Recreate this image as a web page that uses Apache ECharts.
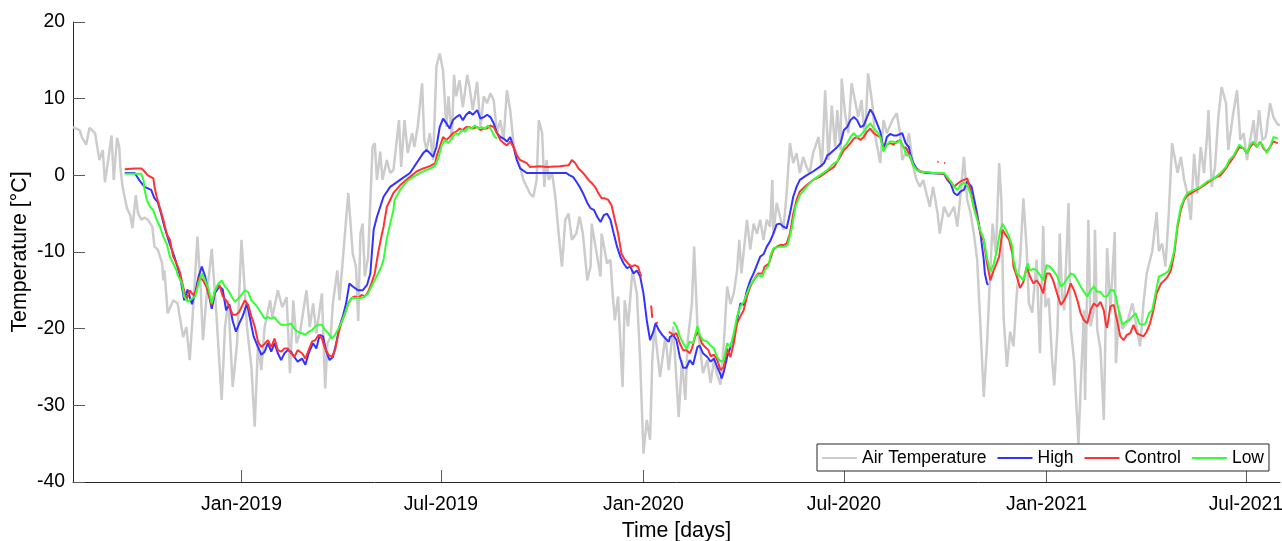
<!DOCTYPE html>
<html>
<head>
<meta charset="utf-8">
<script src="https://cdn.jsdelivr.net/npm/echarts@6/dist/echarts.min.js"></script>
<style>
  html, body { margin: 0; padding: 0; background: #fff; }
  #chart { width: 1282px; height: 541px; }
</style>
</head>
<body>
<div id="chart"></div>
<script>
// x values are days after startDate, y values are degrees C
const startDate = '2018-08-01';
const endDate = '2021-08-01';
const xTickDates = ['2019-01-01', '2019-07-01', '2020-01-01', '2020-07-01', '2021-01-01', '2021-07-01'];
const xTickLabels = ['Jan-2019', 'Jul-2019', 'Jan-2020', 'Jul-2020', 'Jan-2021', 'Jul-2021'];
const seriesNames = ['Air Temperature', 'High', 'Control', 'Low'];

const airTemperature = [[0,6.3],[6,5.9],[8,5.0],[12,4.0],[15,6.2],[20,5.5],[24,2.0],[27,3.3],[29,-0.9],[32,2.0],[35,5.2],[37,-0.6],[40,4.9],[42,3.7],[43,1.1],[45,-1.5],[49,-4.3],[52,-5.2],[54,-6.9],[57,-2.6],[59,-4.9],[62,-5.8],[65,-5.5],[68,-5.8],[72,-6.7],[74,-9.3],[77,-9.7],[81,-11.5],[82,-13.7],[83,-12.4],[86,-18],[91,-16.3],[95,-16.7],[100,-21.1],[103,-19.8],[106,-24.1],[109,-17.6],[113,-8.0],[116,-15],[118,-21.5],[121,-16.3],[126,-9.6],[130,-17.6],[135,-29.3],[138,-19.8],[141,-16.3],[145,-27.6],[149,-21.9],[153,-8.4],[156,-15],[158,-19.8],[162,-25],[165,-32.8],[168,-21.9],[171,-25.4],[174,-19.8],[179,-16.3],[181,-18.5],[186,-15],[190,-17.2],[194,-15.9],[197,-25.8],[200,-16.3],[203,-21.9],[206,-20.6],[212,-15],[215,-19.8],[218,-16.7],[221,-20.6],[226,-15.4],[229,-27.8],[231,-21.9],[234,-21.1],[236,-16.7],[240,-12.4],[242,-16.3],[245,-11],[250,-2.3],[254,-10.2],[257,-12],[259,-19],[261,-7.6],[263,-6.3],[265,-13.2],[268,-10.6],[272,3.7],[274,4.2],[276,-0.6],[279,3.1],[281,-0.6],[285,2.0],[288,0.3],[291,0.7],[296,7.2],[298,1.1],[301,7.2],[304,2.9],[308,5.5],[310,3.7],[313,6.3],[317,12.0],[319,4.6],[321,3.3],[324,5.5],[327,2.0],[330,14.2],[333,15.9],[336,13.7],[339,6.3],[341,10.3],[344,4.6],[346,13.1],[348,10.3],[351,12.4],[354,8.9],[358,13.1],[360,11.6],[363,8.5],[367,12.2],[370,6.3],[373,10.3],[376,9.4],[379,10.7],[382,9.8],[385,5.5],[388,7.2],[391,4.6],[394,11.1],[397,8.5],[400,4.2],[403,2.4],[406,1.1],[409,-0.6],[412,-1.5],[415,-2.4],[418,-2.8],[421,-0.6],[423,7.2],[426,5.5],[428,-1.5],[430,2.0],[432,-0.6],[435,0.3],[438,-2.8],[441,-7.6],[444,-11.9],[447,-5.8],[450,-5.0],[453,-8.4],[457,-7.6],[460,-5.4],[463,-7.6],[467,-13.7],[470,-11.9],[471,-6.3],[476,-10.6],[479,-13.2],[480,-7.6],[485,-11.5],[488,-11],[490,-15.4],[492,-18.9],[495,-15.8],[499,-27.6],[501,-16.3],[504,-19.7],[508,-12.4],[512,-15.4],[515,-24.1],[518,-36.3],[521,-31.9],[524,-34.5],[526,-24.1],[528,-19.7],[533,-26.3],[538,-21.0],[541,-25.4],[545,-19.7],[550,-31.5],[553,-24.1],[556,-29.3],[558,-21.9],[562,-16.7],[564,-9.3],[567,-19.7],[569,-21.9],[572,-25.8],[576,-24.1],[579,-27.1],[582,-24.1],[585,-26.1],[588,-27.3],[591,-21.9],[594,-14.5],[597,-16.8],[600,-15.4],[603,-12.4],[605,-8.4],[607,-12.8],[612,-5.8],[615,-9.7],[618,-6.3],[621,-7.6],[624,-5.8],[627,-8.4],[630,-5.8],[633,-6.7],[635,-0.6],[636,-7.6],[639,-3.6],[642,-5.4],[645,-7.1],[648,-2.4],[651,4.2],[654,1.6],[657,2.9],[660,0.3],[663,2.4],[666,1.1],[669,0.3],[672,2.9],[677,5.0],[680,1.1],[683,11.1],[686,2.0],[689,9.1],[692,3.7],[694,8.5],[697,3.3],[698,12.6],[701,8.1],[704,5.5],[707,12.0],[710,9.8],[713,7.6],[716,9.8],[719,4.6],[722,13.3],[726,9.1],[728,5.5],[733,1.6],[736,7.2],[739,5.5],[744,7.2],[748,8.1],[751,5.5],[753,2.0],[756,2.9],[759,5.5],[763,1.1],[766,-0.6],[769,-1.5],[772,-0.6],[775,-2.4],[778,-4.1],[781,-1.5],[785,-4.9],[787,-7.6],[791,-4.1],[795,-5.4],[800,-4.1],[803,-6.7],[806,-2.4],[809,2.4],[812,-3.2],[815,-4.9],[818,-7.6],[821,-11],[824,-19.7],[827,-28.9],[830,-22],[832,-15.4],[835,-6.3],[838,-10.2],[841,1.6],[843,-3.2],[845,-18.4],[848,-25],[851,-20.4],[854,-22.3],[857,-15.4],[860,-11],[863,-3.0],[866,-9.7],[868,-16.7],[871,-17.9],[875,-11],[878,-23.2],[881,-6.6],[883,-17.2],[886,-16],[889,-23.9],[891,-27.4],[894,-20],[896,-7.6],[898,-15.4],[900,-17.6],[904,-3.6],[906,-20],[909,-24.1],[911,-29.6],[913,-35],[915,-27.6],[918,-17.6],[919,-29.3],[922,-5.8],[924,-19.7],[927,-17.6],[928,-7.1],[930,-20.1],[933,-22.7],[936,-31.9],[939,-9.5],[942,-17.6],[946,-7.4],[947,-24.5],[950,-17.6],[953,-20],[957,-19.3],[962,-16.7],[966,-20],[969,-22.3],[972,-16.7],[975,-12.8],[980,-9.9],[984,-4.8],[986,-9.9],[989,-8.9],[992,-11.9],[995,-5.0],[998,4.2],[999,4.4],[1003,0.3],[1006,2.4],[1009,-0.6],[1012,-2.4],[1015,-5.8],[1018,2.8],[1021,-2.4],[1024,3.7],[1027,0.3],[1030,5.5],[1031,8.5],[1034,-1.5],[1037,1.1],[1040,7.6],[1043,11.5],[1047,9.4],[1049,3.3],[1053,7.6],[1057,11.1],[1060,4.6],[1063,5.5],[1066,2.0],[1069,4.6],[1072,7.2],[1074,3.7],[1077,8.5],[1080,4.6],[1083,5.0],[1087,9.4],[1090,7.6],[1094,6.6],[1096,6.6]];

const high = [[47,0.3],[56,0.3],[61,-0.8],[65,-1.5],[71,-1.9],[74,-3.0],[77,-3.5],[80,-5.0],[83,-6.7],[88,-9.0],[92,-10.6],[97,-13.0],[101,-16.3],[104,-14.9],[108,-16.8],[111,-15.3],[114,-13.2],[117,-11.9],[120,-13.2],[123,-15.3],[126,-17.4],[129,-15.3],[133,-14.5],[136,-14.9],[139,-17.6],[142,-16.8],[145,-19.0],[148,-20.4],[151,-19.3],[154,-18.4],[158,-16.7],[161,-18.9],[164,-21.0],[168,-22.4],[171,-23.4],[174,-23.0],[177,-21.9],[180,-23.0],[183,-21.9],[186,-23.2],[189,-24.1],[192,-23.2],[195,-22.8],[198,-23.0],[201,-23.7],[204,-24.3],[208,-23.9],[211,-24.7],[214,-23.2],[218,-21.9],[221,-22.6],[224,-20.8],[227,-21.0],[230,-23.0],[233,-24.1],[236,-23.7],[239,-21.9],[242,-19.7],[245,-18.4],[248,-16.7],[251,-14.1],[254,-14.5],[259,-15.0],[263,-15.0],[267,-14.3],[270,-12.8],[273,-7.1],[276,-5.4],[279,-4.1],[282,-2.8],[288,-1.5],[297,-0.6],[306,0.3],[312,1.6],[318,2.9],[321,3.3],[324,2.9],[327,2.4],[330,3.7],[333,6.3],[336,7.4],[339,6.8],[342,6.1],[345,7.2],[348,7.6],[351,7.9],[354,7.2],[357,7.9],[360,8.3],[363,7.9],[367,8.5],[370,7.4],[373,7.6],[376,7.9],[379,7.6],[382,6.8],[385,5.5],[388,5.0],[391,4.8],[394,4.4],[397,5.0],[400,3.7],[403,2.0],[406,0.9],[412,0.3],[448,0.3],[451,0.0],[454,-0.2],[457,-0.8],[460,-1.5],[463,-2.3],[467,-3.6],[470,-4.3],[473,-4.5],[476,-5.4],[479,-6.1],[482,-5.2],[485,-5.0],[488,-5.8],[491,-7.6],[494,-9.3],[497,-10.6],[500,-11.5],[503,-12.1],[506,-11.9],[509,-12.8],[512,-12.4],[515,-13.2],[518,-15.4],[521,-18.9],[524,-21.5],[527,-20.4],[529,-19.3],[532,-20.2],[535,-20.8],[538,-21.3],[541,-21.7],[542,-21.1],[545,-20.8],[548,-21.5],[551,-23.7],[554,-25.1],[557,-25.1],[560,-24.1],[563,-24.7],[567,-22.4],[569,-22.2],[572,-23.2],[576,-23.7],[579,-24.3],[582,-23.9],[585,-25.0],[588,-26.0],[589,-26.5],[591,-25.6],[594,-23.7],[597,-22.4],[600,-21.0],[603,-18.9],[606,-16.7],[609,-16.9],[612,-15.0],[615,-13.7],[618,-12.8],[621,-11.7],[624,-10.6],[627,-10.3],[630,-9.3],[633,-8.6],[636,-7.6],[639,-6.4],[642,-6.3],[645,-6.7],[648,-6.9],[651,-5.0],[654,-2.8],[657,-1.5],[660,-0.6],[666,0.0],[672,0.5],[678,1.1],[682,1.6],[685,2.6],[688,2.9],[691,3.3],[694,3.7],[697,4.2],[700,5.9],[703,6.3],[706,7.2],[709,7.6],[712,7.2],[715,6.3],[718,6.5],[721,7.6],[724,8.6],[727,7.9],[730,6.8],[733,5.7],[735,4.2],[736,3.3],[739,5.0],[742,5.4],[745,5.2],[748,5.2],[753,5.5],[756,4.2],[759,3.7],[760,2.9],[763,1.6],[766,0.9],[769,0.5],[775,0.3],[791,0.2],[794,-0.6],[797,-1.1],[800,-2.3],[803,-2.6],[806,-2.1],[809,-1.9],[812,-0.8],[816,-1.5],[821,-5.0],[824,-7.6],[827,-11.0],[828,-12.8],[830,-14.1],[831,-14.3]];

const control = [[47,0.8],[56,0.9],[62,0.9],[65,0.5],[68,0.0],[73,-0.4],[74,-1.5],[76,-2.8],[79,-4.3],[82,-5.8],[85,-7.6],[88,-8.4],[91,-10.6],[94,-11.5],[97,-12.6],[100,-14.5],[103,-16.3],[106,-15.0],[109,-15.6],[112,-15.0],[115,-13.2],[118,-13.7],[121,-14.5],[126,-16.9],[129,-15.0],[133,-14.3],[136,-15.8],[139,-16.3],[142,-17.1],[145,-18.2],[148,-18.2],[151,-17.8],[156,-16.3],[159,-16.9],[162,-18.4],[165,-19.7],[168,-21.7],[171,-22.4],[174,-22.0],[177,-21.5],[180,-22.4],[183,-21.3],[186,-22.8],[189,-23.0],[192,-22.6],[195,-22.6],[198,-23.2],[201,-23.7],[204,-22.8],[208,-23.2],[211,-23.9],[214,-22.8],[217,-21.7],[220,-21.5],[223,-20.8],[226,-21.3],[229,-22.6],[232,-23.4],[235,-23.7],[238,-22.8],[241,-20.6],[244,-19.1],[247,-18.0],[250,-16.7],[253,-16.0],[256,-15.8],[259,-16.0],[262,-15.6],[265,-15.8],[268,-15.2],[271,-14.1],[274,-12.8],[277,-10.2],[280,-8.0],[282,-6.7],[285,-4.1],[291,-2.3],[297,-1.3],[306,-0.2],[312,0.5],[318,0.9],[324,1.2],[329,1.6],[330,2.4],[333,3.7],[336,5.0],[339,4.6],[342,5.0],[345,5.5],[348,5.7],[351,6.1],[354,5.9],[357,6.3],[360,6.3],[363,6.1],[367,6.3],[370,5.9],[373,6.1],[376,6.1],[379,6.5],[382,6.3],[385,5.5],[388,4.6],[391,4.2],[394,3.9],[397,4.4],[400,3.7],[403,2.6],[406,2.0],[412,1.6],[415,1.1],[424,1.2],[430,1.1],[442,1.2],[450,1.3],[453,2.0],[456,1.6],[459,0.9],[462,0.5],[465,0.0],[468,-0.6],[471,-1.0],[474,-1.5],[477,-2.3],[480,-3.0],[483,-3.0],[486,-3.2],[489,-3.9],[492,-5.8],[495,-7.6],[498,-10.2],[501,-11.0],[504,-11.5],[507,-11.9],[510,-11.7],[513,-11.9],[515,-12.8],[516,-13.2],[520,null],[525,-17.0],[526,-18.6],[527,null],[529,-19.3],[531,-19.2],[535,null],[541,-20.4],[545,-20.8],[548,-20.6],[551,-21.9],[554,-22.8],[557,-22.8],[560,-23.2],[562,-22.6],[565,-21.0],[568,-20.4],[571,-21.9],[574,-22.4],[577,-22.8],[579,-23.6],[582,-23.4],[585,-24.1],[588,-25.4],[591,-25.0],[592,-24.1],[594,-22.6],[597,-23.7],[600,-21.9],[603,-19.3],[606,-18.4],[609,-17.6],[612,-15.8],[615,-14.5],[618,-13.7],[622,-12.8],[626,-12.8],[628,-11.9],[632,-11.5],[633,-11.0],[636,-9.7],[639,-9.3],[642,-9.1],[645,-9.1],[648,-8.9],[651,-7.6],[654,-5.0],[657,-3.2],[660,-2.1],[666,-1.3],[672,-0.6],[678,-0.2],[685,0.5],[691,1.1],[694,1.8],[697,2.5],[700,3.3],[703,3.7],[706,4.2],[709,4.8],[712,5.0],[715,4.6],[718,5.0],[721,5.7],[724,6.1],[727,5.5],[730,5.2],[733,5.0],[735,4.0],[736,3.3],[739,4.0],[742,4.2],[745,4.0],[748,4.4],[751,4.6],[754,3.7],[757,3.5],[760,2.4],[763,1.3],[769,0.5],[781,0.3],[791,0.2],[794,-0.4],[797,-0.8],[800,-1.5],[803,-1.1],[806,-0.8],[809,-0.6],[812,-0.4],[815,-1.9],[818,-4.1],[821,-5.4],[824,-7.6],[827,-8.5],[830,-11.5],[833,-13.7],[836,-12.4],[838,-11.7],[841,-10.6],[844,-7.1],[847,-7.8],[850,-8.4],[853,-10.2],[854,-11.9],[857,-13.2],[860,-14.7],[863,-13.9],[866,-11.9],[869,-13.2],[872,-14.1],[875,-13.7],[878,-14.3],[881,-15.4],[884,-12.8],[887,-12.8],[890,-13.7],[894,-15.6],[897,-16.9],[900,-16.3],[903,-15.4],[906,-14.1],[909,-15.0],[912,-16.3],[915,-18.0],[918,-18.9],[921,-19.3],[924,-17.6],[927,-16.7],[930,-17.1],[933,-16.5],[936,-17.6],[938,-19.5],[939,-19.9],[942,-17.1],[945,-16.9],[948,-18.9],[951,-21.0],[954,-21.5],[957,-20.8],[960,-20.6],[963,-19.5],[966,-20.6],[969,-20.8],[972,-21.0],[975,-20.4],[978,-19.3],[981,-17.6],[984,-15.4],[988,-14.1],[991,-13.7],[994,-13.2],[997,-12.4],[1000,-10.2],[1003,-6.7],[1006,-4.5],[1009,-3.2],[1012,-2.6],[1018,-2.1],[1024,-1.6],[1030,-1.0],[1036,-0.4],[1042,0.0],[1047,0.9],[1050,1.6],[1054,2.4],[1059,3.7],[1063,3.5],[1066,2.9],[1069,3.7],[1072,4.2],[1075,3.7],[1078,4.4],[1081,3.5],[1084,3.1],[1087,3.7],[1090,4.4],[1094,4.2],
  [1095,null],[785,1.7],[786,1.8],[787,null],[791,1.6],[792,1.6]];

const low = [[47,0.2],[62,0.2],[64,-0.6],[65,-1.9],[67,-3.2],[70,-4.1],[73,-4.6],[76,-5.8],[79,-6.7],[82,-8.0],[85,-8.9],[88,-10.6],[91,-11.5],[94,-12.4],[95,-13.0],[99,-14.1],[101,-15.8],[104,-16.5],[108,-16.1],[111,-15.8],[114,-14.1],[117,-12.8],[120,-13.7],[123,-14.7],[126,-16.7],[129,-15.0],[132,-14.1],[135,-13.7],[138,-14.5],[141,-15.0],[144,-15.8],[147,-16.5],[150,-16.1],[153,-15.6],[156,-15.0],[159,-15.2],[162,-16.3],[167,-17.1],[171,-18.0],[174,-18.7],[177,-18.5],[180,-18.7],[183,-18.5],[186,-19.1],[189,-19.5],[192,-19.5],[195,-19.5],[198,-19.3],[201,-20.0],[204,-20.4],[208,-20.6],[211,-20.8],[214,-20.4],[217,-20.2],[220,-19.7],[223,-19.5],[226,-19.5],[229,-20.2],[232,-20.6],[235,-21.3],[238,-20.8],[241,-20.0],[244,-19.1],[247,-18.0],[250,-16.7],[253,-16.0],[258,-16.0],[262,-16.0],[265,-15.8],[268,-15.4],[271,-14.5],[274,-13.7],[277,-12.8],[280,-11.9],[282,-11.0],[285,-8.2],[288,-6.3],[291,-4.5],[292,-3.2],[297,-1.9],[303,-0.8],[309,-0.2],[315,0.3],[321,0.7],[326,1.0],[329,1.3],[332,2.4],[335,4.0],[338,4.6],[341,4.2],[344,4.8],[347,5.5],[350,5.3],[353,5.9],[356,5.7],[359,6.3],[362,6.1],[365,6.5],[368,6.1],[371,6.3],[374,6.1],[377,6.5],[380,5.9],[383,5.0],[385,4.8],[390,null],[545,-19.1],[548,-19.7],[551,-21.0],[554,-21.9],[557,-22.6],[560,-21.7],[563,-21.9],[567,-19.7],[569,-20.8],[572,-21.5],[576,-21.7],[579,-22.2],[582,-22.6],[585,-23.7],[588,-24.3],[591,-24.1],[594,-21.9],[597,-22.4],[600,-20.6],[603,-18.4],[606,-17.1],[609,-16.5],[612,-15.4],[615,-14.3],[618,-13.7],[622,-13.0],[626,-13.2],[628,-12.4],[632,-11.7],[633,-10.6],[636,-9.5],[642,-9.3],[646,-9.3],[649,-9.1],[653,-6.7],[656,-4.1],[660,-2.6],[666,-1.5],[672,-0.6],[678,0.0],[685,0.7],[691,1.6],[694,1.8],[697,2.9],[700,3.7],[703,4.2],[706,5.0],[709,5.5],[712,5.0],[715,5.2],[718,5.7],[721,6.3],[724,6.8],[727,6.1],[730,5.7],[733,5.0],[735,3.9],[736,3.1],[739,4.0],[742,4.4],[745,4.4],[748,4.2],[751,4.6],[754,3.7],[757,2.6],[760,2.6],[763,1.3],[766,0.7],[769,0.5],[781,0.3],[791,0.3],[794,-0.2],[797,-0.8],[800,-1.5],[803,-1.9],[806,-1.2],[809,-1.0],[812,-1.3],[815,-2.4],[818,-4.3],[821,-5.8],[824,-7.2],[827,-8.3],[830,-10.8],[833,-12.6],[836,-11.6],[839,-9.7],[842,-7.2],[844,-6.3],[847,-7.1],[850,-8.0],[853,-9.3],[854,-11.0],[857,-12.8],[860,-13.2],[863,-13.7],[867,-11.5],[869,-12.4],[872,-12.2],[875,-12.4],[878,-13.0],[881,-13.7],[884,-11.7],[887,-11.9],[890,-12.4],[894,-13.2],[897,-14.5],[900,-14.1],[903,-13.4],[906,-12.8],[909,-13.0],[912,-13.7],[915,-14.5],[918,-15.2],[921,-15.8],[924,-15.0],[927,-14.5],[930,-15.2],[933,-15.2],[936,-15.8],[939,-15.8],[942,-15.0],[945,-15.0],[947,-15.8],[950,-18.0],[953,-19.5],[956,-19.1],[959,-18.9],[962,-18.4],[965,-18.0],[968,-19.3],[971,-19.5],[974,-19.3],[977,-18.0],[980,-17.6],[983,-15.4],[986,-13.2],[989,-13.0],[992,-12.8],[995,-12.4],[998,-11.0],[1000,-9.7],[1003,-6.3],[1006,-4.1],[1009,-3.0],[1012,-2.3],[1018,-1.9],[1024,-1.5],[1030,-0.8],[1036,-0.4],[1042,0.3],[1047,1.1],[1050,2.0],[1054,2.6],[1059,4.0],[1063,3.5],[1066,2.9],[1069,4.0],[1072,4.4],[1075,3.7],[1078,4.4],[1081,3.7],[1084,2.9],[1087,3.7],[1090,5.0],[1094,4.8]];

const DAY = 86400000;
function toDay(s) {
  const p = s.split('-').map(Number);
  const q = startDate.split('-').map(Number);
  return Math.round((Date.UTC(p[0], p[1] - 1, p[2]) - Date.UTC(q[0], q[1] - 1, q[2])) / DAY);
}
const xTickDays = xTickDates.map(toDay);
const toSeries = pts => pts.map(p => [p[0], p[1] === null ? '-' : p[1]]);

const font = '"Liberation Sans", Arial, Helvetica, sans-serif';
const axisColor = '#262626';
const tickColor = '#5a5a5a';
const colors = ['#cccccc', '#3333ff', '#ff3333', '#33ff33'];
const widths = [2.5, 2, 2, 2];
const allData = [airTemperature, high, control, low];

const chart = echarts.init(document.getElementById('chart'));
chart.setOption({
  animation: false,
  textStyle: { fontFamily: font },
  grid: { left: 73, top: 22, width: 1207, height: 460, containLabel: false, outerBoundsMode: 'none' },
  legend: {
    data: seriesNames,
    left: 817,
    top: 444,
    padding: [5, 5, 4, 5],
    itemGap: 11,
    itemWidth: 35,
    itemHeight: 2,
    icon: 'rect',
    backgroundColor: '#fff',
    borderColor: axisColor,
    borderWidth: 1,
    borderRadius: 0,
    textStyle: { fontSize: 17.5, color: '#000', fontFamily: font }
  },
  xAxis: {
    type: 'value',
    min: 0,
    max: toDay(endDate),
    name: 'Time [days]',
    nameLocation: 'middle',
    nameGap: 39,
    nameMoveOverlap: false,
    nameTextStyle: { fontSize: 21.3, color: '#000', fontFamily: font },
    axisLine: { show: true, onZero: false, lineStyle: { color: axisColor, width: 1 } },
    axisTick: { show: true, inside: true, length: 12, customValues: xTickDays, lineStyle: { color: tickColor } },
    axisLabel: {
      customValues: xTickDays,
      fontSize: 19.4,
      color: '#000',
      margin: 13,
      fontFamily: font,
      formatter: v => xTickLabels[xTickDays.indexOf(v)] || ''
    },
    splitLine: { show: false }
  },
  yAxis: {
    type: 'value',
    min: -40,
    max: 20,
    interval: 10,
    name: 'Temperature [°C]',
    nameLocation: 'middle',
    nameGap: 42,
    nameMoveOverlap: false,
    nameTextStyle: { fontSize: 21.3, color: '#000', fontFamily: font },
    axisLine: { show: true, onZero: false, lineStyle: { color: axisColor, width: 1 } },
    axisTick: { show: true, inside: true, length: 12, lineStyle: { color: tickColor } },
    axisLabel: { fontSize: 19.4, color: '#000', margin: 8, fontFamily: font },
    splitLine: { show: false }
  },
  series: seriesNames.map((name, i) => ({
    name,
    type: 'line',
    data: toSeries(allData[i]),
    symbol: 'none',
    showSymbol: false,
    connectNulls: false,
    lineStyle: { color: colors[i], width: widths[i] },
    itemStyle: { color: colors[i] },
    z: 2 + i
  }))
});
</script>
</body>
</html>
